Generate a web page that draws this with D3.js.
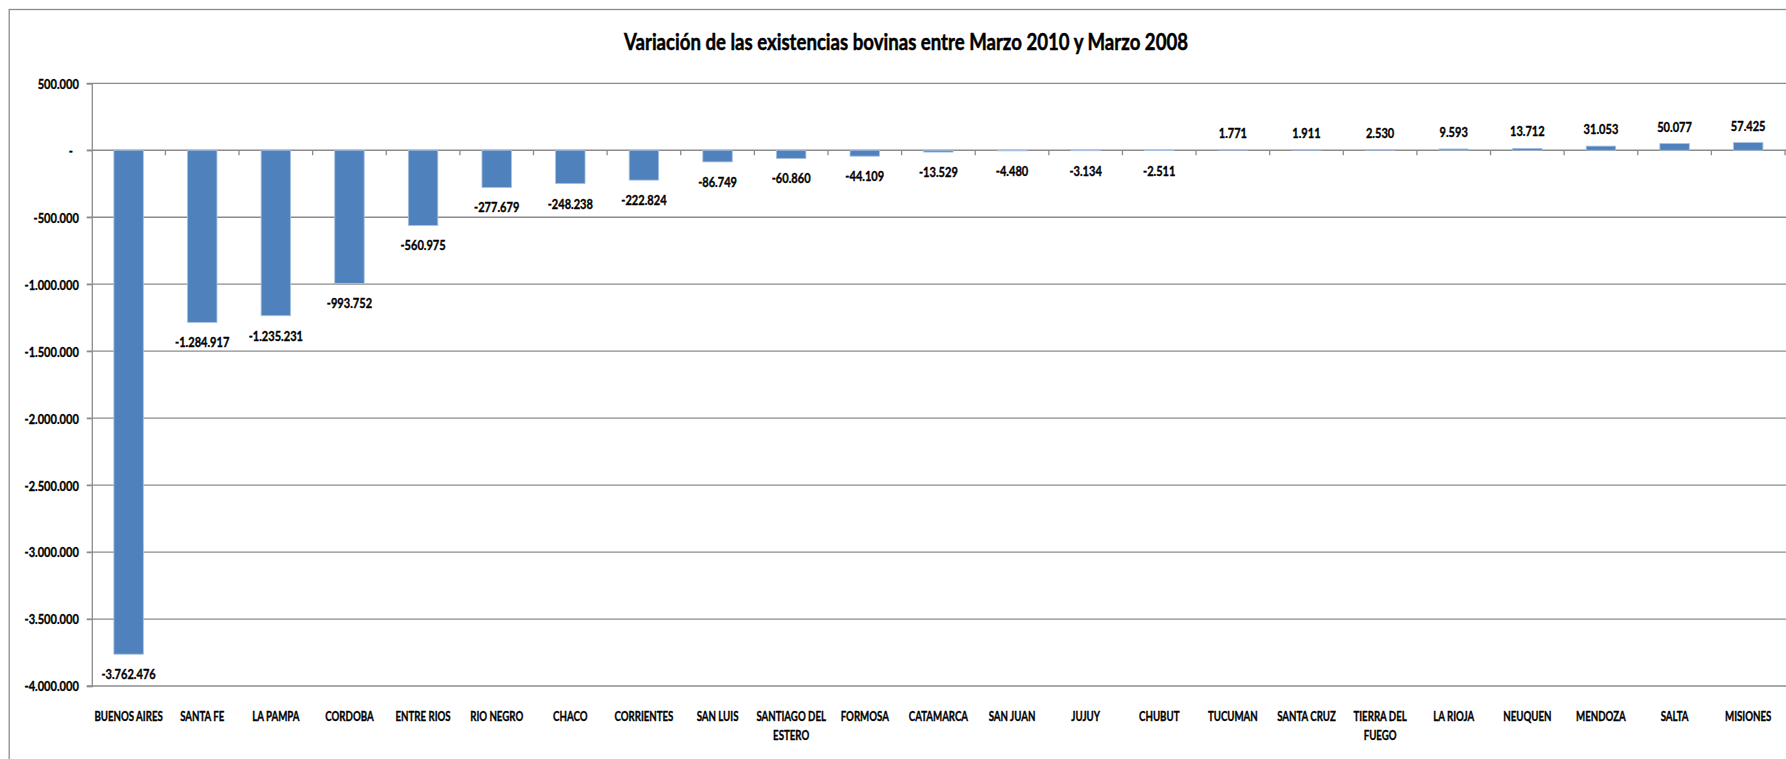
<!DOCTYPE html>
<meta charset="utf-8">
<style>
body { margin: 0; background: #fff; }
svg text { font-family: Lato, "Open Sans", sans-serif; font-weight: bold; fill: #000; stroke: #000; stroke-width: 0.35; }
.grid line { stroke: #8c8c8c; stroke-width: 1.3; }
</style>
<svg width="1786" height="759"></svg>
<script src="https://d3js.org/d3.v7.min.js"></script>
<script>

var provincias = ["BUENOS AIRES", "SANTA FE", "LA PAMPA", "CORDOBA", "ENTRE RIOS", "RIO NEGRO", "CHACO",
  "CORRIENTES", "SAN LUIS", "SANTIAGO DEL ESTERO", "FORMOSA", "CATAMARCA", "SAN JUAN", "JUJUY", "CHUBUT",
  "TUCUMAN", "SANTA CRUZ", "TIERRA DEL FUEGO", "LA RIOJA", "NEUQUEN", "MENDOZA", "SALTA", "MISIONES"];

var variacion = [-3762476, -1284917, -1235231, -993752, -560975, -277679, -248238,
  -222824, -86749, -60860, -44109, -13529, -4480, -3134, -2511,
  1771, 1911, 2530, 9593, 13712, 31053, 50077, 57425];

// etiquetas de categoria partidas en dos lineas como en el original
var etiquetas = [["BUENOS AIRES"], ["SANTA FE"], ["LA PAMPA"], ["CORDOBA"], ["ENTRE RIOS"], ["RIO NEGRO"], ["CHACO"],
  ["CORRIENTES"], ["SAN LUIS"], ["SANTIAGO DEL", "ESTERO"], ["FORMOSA"], ["CATAMARCA"], ["SAN JUAN"], ["JUJUY"], ["CHUBUT"],
  ["TUCUMAN"], ["SANTA CRUZ"], ["TIERRA DEL", "FUEGO"], ["LA RIOJA"], ["NEUQUEN"], ["MENDOZA"], ["SALTA"], ["MISIONES"]];

var yTicks = [500000, 0, -500000, -1000000, -1500000, -2000000, -2500000, -3000000, -3500000, -4000000];
var yTickLabels = ["500.000", "-", "-500.000", "-1.000.000", "-1.500.000", "-2.000.000", "-2.500.000",
  "-3.000.000", "-3.500.000", "-4.000.000"];

var titulo = "Variación de las existencias bovinas entre Marzo 2010 y Marzo 2008";

var data = provincias.map(function(p, i) { return {prov: p, valor: variacion[i], lineas: etiquetas[i]}; });

var svg = d3.select("svg"),
    margin = {top: 83.3, right: 1, bottom: 73, left: 91.8},
    width = +svg.attr("width") - margin.left - margin.right,
    height = +svg.attr("height") - margin.top - margin.bottom;

// la fuente original (Calibri) es estrecha: se comprime el texto a lo ancho
var condensar = function(sel, factor) {
  sel.each(function() {
    var len = this.getComputedTextLength();
    if (len > 0) d3.select(this).attr("textLength", len * factor).attr("lengthAdjust", "spacingAndGlyphs");
  });
};

// borde del area del grafico (cortado a la derecha y abajo)
svg.append("rect")
    .attr("x", 9.2).attr("y", 9.5)
    .attr("width", 2000).attr("height", 1000)
    .attr("fill", "none")
    .attr("stroke", "#8c8c8c")
    .attr("stroke-width", 1.3);

svg.append("text")
    .attr("x", 906)
    .attr("y", 50)
    .attr("text-anchor", "middle")
    .attr("font-size", 23)
    .style("stroke-width", 0.5)
    .text(titulo)
    .attr("textLength", 564)
    .attr("lengthAdjust", "spacingAndGlyphs");

var g = svg.append("g").attr("transform", "translate(" + margin.left + "," + margin.top + ")");

var x = d3.scaleBand()
    .domain(provincias)
    .range([0, width])
    .paddingInner(0.6)
    .paddingOuter(0.3);

var band = d3.scaleBand().domain(provincias).range([0, width]);

var y = d3.scaleLinear()
    .domain([-4000000, 500000])
    .range([height, 0]);

// lineas de division horizontales
g.append("g")
    .attr("class", "grid")
    .selectAll("line")
    .data(yTicks)
    .enter().append("line")
      .attr("x1", -5)
      .attr("x2", width + 5)
      .attr("y1", function(d) { return y(d); })
      .attr("y2", function(d) { return y(d); });

// eje vertical
var yAxis = g.append("g")
    .call(d3.axisLeft(y).tickValues(yTicks).tickSize(5).tickFormat(function(d, i) { return yTickLabels[i]; }));
yAxis.select(".domain").attr("stroke", "#8c8c8c").attr("stroke-width", 1.3);
yAxis.selectAll(".tick line").attr("stroke", "#8c8c8c").attr("stroke-width", 1.3);
yAxis.selectAll(".tick text")
    .attr("font-size", 14)
    .attr("font-family", null)
    .attr("x", function(d) { return d === 0 ? -19 : -13; })
    .attr("dy", "0.35em")
    .call(condensar, 0.79);

// marcas de categoria sobre la linea cero
g.append("g")
    .selectAll("line")
    .data(provincias)
    .enter().append("line")
      .attr("x1", function(d, i) { return band.step() * (i + 1); })
      .attr("x2", function(d, i) { return band.step() * (i + 1); })
      .attr("y1", y(0))
      .attr("y2", y(0) + 5)
      .attr("stroke", "#8c8c8c")
      .attr("stroke-width", 1.3);

g.selectAll(".bar")
    .data(data)
    .enter().append("rect")
      .attr("class", "bar")
      .attr("x", function(d) { return x(d.prov); })
      .attr("y", function(d) { return y(Math.max(0, d.valor)); })
      .attr("width", x.bandwidth())
      .attr("height", function(d) { return Math.abs(y(d.valor) - y(0)); })
      .attr("fill", "#4f81bd")
      .attr("stroke", "#a7c0de")
      .attr("stroke-width", 0.8);

var fmt = d3.formatLocale({decimal: ",", thousands: ".", grouping: [3], currency: ["$", ""], minus: "-"}).format(",d");

g.selectAll(".etq")
    .data(data)
    .enter().append("text")
      .attr("class", "etq")
      .attr("x", function(d) { return x(d.prov) + x.bandwidth() / 2; })
      .attr("y", function(d) { return d.valor < 0 ? y(d.valor) + 25 : y(d.valor) - 12; })
      .attr("text-anchor", "middle")
      .attr("font-size", 14)
      .text(function(d) { return fmt(d.valor); })
      .call(condensar, 0.79);

// etiquetas del eje de categorias
var cat = g.selectAll(".cat")
    .data(data)
    .enter().append("text")
      .attr("class", "cat")
      .attr("text-anchor", "middle")
      .attr("font-size", 14)
      .attr("transform", function(d) { return "translate(" + (band(d.prov) + band.bandwidth() / 2) + "," + (height + 34.5) + ")"; });

cat.selectAll("tspan")
    .data(function(d) { return d.lineas; })
    .enter().append("tspan")
      .attr("x", 0)
      .attr("dy", function(d, i) { return i === 0 ? 0 : 19; })
      .text(function(d) { return d; })
      .call(condensar, 0.69);

</script>
